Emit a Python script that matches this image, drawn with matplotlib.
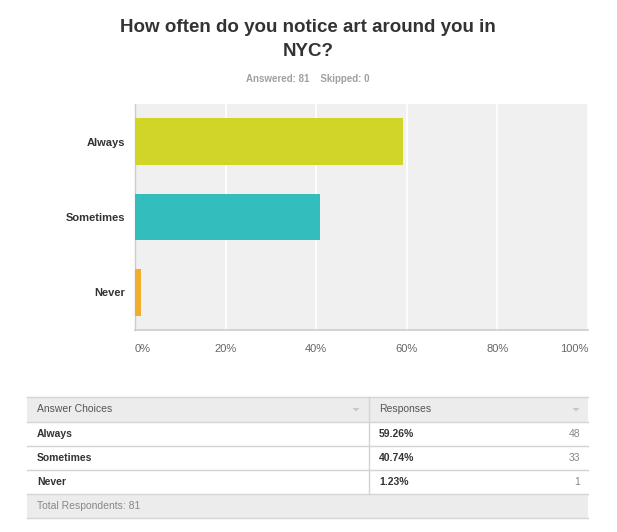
import matplotlib
matplotlib.use("Agg")
import matplotlib.pyplot as plt
from matplotlib.patches import Rectangle, Polygon

plt.rcParams['font.family'] = ['Liberation Sans', 'DejaVu Sans']

title = "How often do you notice art around you in\nNYC?"
subtitle = "Answered: 81    Skipped: 0"
categories = ["Always", "Sometimes", "Never"]
percents = [59.26, 40.74, 1.23]
counts = [48, 33, 1]
colors = ["#d0d528", "#33bdbd", "#f0ad2e"]
xticks = [0, 20, 40, 60, 80, 100]
xtick_labels = ["0%", "20%", "40%", "60%", "80%", "100%"]
table_header = ["Answer Choices", "Responses"]
total_text = "Total Respondents: 81"

W, H = 617, 532
fig = plt.figure(figsize=(W / 100, H / 100), dpi=100)
fig.patch.set_facecolor("white")

def fx(px):
    return px / W

def fy(py):
    return 1 - py / H

# ---- chart axes ----
L, R, T, B = 135, 588, 104, 330
ax = fig.add_axes([fx(L), fy(B), fx(R - L), (B - T) / H])
ax.set_facecolor("#f0f0f0")
ypos = list(range(len(categories)))
ax.barh(ypos, percents, height=0.62, color=colors, zorder=3)
ax.set_xlim(0, 100)
ax.set_ylim(len(categories) - 0.5, -0.5)
ax.set_xticks(xticks)
ax.set_xticklabels(xtick_labels, color="#666666", fontsize=8)
xl = ax.get_xticklabels()
xl[0].set_horizontalalignment("left")
xl[-1].set_horizontalalignment("right")
ax.set_yticks(ypos)
ax.set_yticklabels(categories, fontsize=8, fontweight="bold", color="#333333")
ax.tick_params(axis="both", length=0)
ax.tick_params(axis="x", pad=10)
ax.tick_params(axis="y", pad=7)
ax.grid(axis="x", color="white", linewidth=1.2, zorder=1)
for s in ["top", "right"]:
    ax.spines[s].set_visible(False)
ax.spines["left"].set_color("#cccccc")
ax.spines["bottom"].set_color("#cccccc")
ax.spines["left"].set_linewidth(1)
ax.spines["bottom"].set_linewidth(1.2)

# ---- title ----
fig.text(fx(308), fy(27), title.split("\n")[0], ha="center", va="center",
         fontsize=13.5, fontweight="bold", color="#333333")
fig.text(fx(308), fy(51), title.split("\n")[1], ha="center", va="center",
         fontsize=13.5, fontweight="bold", color="#333333")
fig.text(fx(308), fy(79), subtitle, ha="center", va="center", fontsize=7,
         fontweight="bold", color="#a0a0a0")

# ---- table (overlay axes in pixel coords) ----
tx = fig.add_axes([0, 0, 1, 1])
tx.set_xlim(0, W)
tx.set_ylim(H, 0)
tx.axis("off")

tl, tr, tdiv = 27, 588, 369
rows_y = [397, 422, 446, 470, 494, 518]
line_c = "#d4d4d4"
tx.add_patch(Rectangle((tl, rows_y[0]), tr - tl, rows_y[1] - rows_y[0],
                       facecolor="#ececec", edgecolor="none"))
tx.add_patch(Rectangle((tl, rows_y[4]), tr - tl, rows_y[5] - rows_y[4],
                       facecolor="#ececec", edgecolor="none"))
for yy in rows_y:
    tx.plot([tl, tr], [yy, yy], color=line_c, linewidth=1)
tx.plot([tdiv, tdiv], [rows_y[0], rows_y[4]], color=line_c, linewidth=1)

def mid(i):
    return (rows_y[i] + rows_y[i + 1]) / 2

tx.text(tl + 10, mid(0), table_header[0], ha="left", va="center",
        fontsize=7.5, color="#555555")
tx.text(tdiv + 10, mid(0), table_header[1], ha="left", va="center",
        fontsize=7.5, color="#555555")
for cx in (356, 576):
    cy = mid(0)
    tx.add_patch(Polygon([[cx - 3.5, cy - 1.5], [cx + 3.5, cy - 1.5], [cx, cy + 2]],
                         closed=True, facecolor="#c8c8c8", edgecolor="none"))

for i, (cat, p, c) in enumerate(zip(categories, percents, counts)):
    m = mid(i + 1)
    tx.text(tl + 10, m, cat, ha="left", va="center", fontsize=7.5,
            fontweight="bold", color="#333333")
    tx.text(tdiv + 10, m, f"{p:.2f}%", ha="left", va="center", fontsize=7.5,
            fontweight="bold", color="#333333")
    tx.text(580, m, str(c), ha="right", va="center", fontsize=7.5,
            color="#888888")

tx.text(tl + 10, mid(4), total_text, ha="left", va="center", fontsize=7.5,
        color="#888888")

fig.savefig("out.png", dpi=100, facecolor="white")
